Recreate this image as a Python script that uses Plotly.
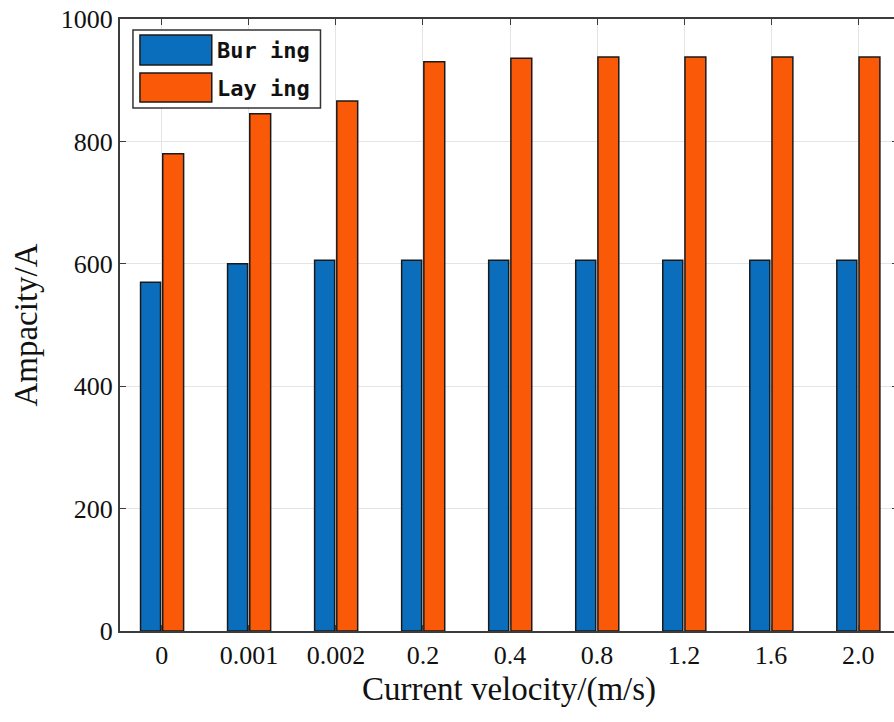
import plotly.graph_objects as go

categories = ["0", "0.001", "0.002", "0.2", "0.4", "0.8", "1.2", "1.6", "2.0"]
buring = [570, 600, 606, 606, 606, 606, 606, 606, 606]
laying = [780, 845, 866, 930, 936, 938, 938, 938, 938]

BLUE = "#0A6EBD"
ORANGE = "#FA5A08"
EDGE = "#1a1a1a"
AXIS = "#3c3c3c"

fig = go.Figure()
fig.add_trace(go.Bar(x=categories, y=buring, name="Buring", marker=dict(color=BLUE, line=dict(color=EDGE, width=1.5)),
                     width=0.23, offset=-0.245, showlegend=False))
fig.add_trace(go.Bar(x=categories, y=laying, name="Laying", marker=dict(color=ORANGE, line=dict(color=EDGE, width=1.5)),
                     width=0.24, offset=0.01, showlegend=False))

serif = "Liberation Serif, Times New Roman, serif"
W = 900
fig.update_layout(
    width=W, height=722,
    margin=dict(l=120, r=0, t=19, b=91),
    plot_bgcolor="white", paper_bgcolor="white",
    barmode="overlay",
    xaxis=dict(type="category", range=[-0.481, 8.458], showgrid=True, gridcolor="#e4e4e4", gridwidth=1,
               showline=True, linecolor=AXIS, linewidth=2, mirror="ticks", ticks="inside", ticklen=6,
               tickcolor=AXIS, tickfont=dict(family=serif, size=26, color="#111"),
               title=dict(text="Current velocity/(m/s)", font=dict(family=serif, size=33, color="#111"), standoff=8)),
    yaxis=dict(range=[0, 1000], tickvals=[0, 200, 400, 600, 800, 1000], showgrid=True, gridcolor="#e4e4e4", gridwidth=1,
               showline=True, linecolor=AXIS, linewidth=2, mirror="ticks", ticks="inside", ticklen=6,
               tickcolor=AXIS, tickfont=dict(family=serif, size=26, color="#111"), zeroline=False,
               title=dict(text="Ampacity/A", font=dict(family=serif, size=33, color="#111"), standoff=13)),
)

# custom legend (paper coordinates)
PW = W - 120

def px(x):
    return (x - 120) / PW

def py(y):
    return (631 - y) / 612.0

legend_font = dict(family="DejaVu Sans Mono, monospace", size=22, color="#111", weight="bold")
fig.add_shape(type="rect", xref="paper", yref="paper", x0=px(133), x1=px(321), y0=py(108), y1=py(30),
              line=dict(color="#333", width=1.5), fillcolor="white", layer="above")
fig.add_shape(type="rect", xref="paper", yref="paper", x0=px(140), x1=px(212), y0=py(65), y1=py(35),
              line=dict(color=EDGE, width=1.5), fillcolor=BLUE, layer="above")
fig.add_shape(type="rect", xref="paper", yref="paper", x0=px(140), x1=px(212), y0=py(102), y1=py(73),
              line=dict(color=EDGE, width=1.5), fillcolor=ORANGE, layer="above")
fig.add_annotation(xref="paper", yref="paper", x=px(215), y=py(50), text="Bur ing", showarrow=False,
                   xanchor="left", yanchor="middle", font=legend_font)
fig.add_annotation(xref="paper", yref="paper", x=px(215), y=py(88), text="Lay ing", showarrow=False,
                   xanchor="left", yanchor="middle", font=legend_font)

fig.write_html("out.html", config={"displayModeBar": False},
               post_script="document.body.style.margin='0';document.body.style.overflow='hidden';")
